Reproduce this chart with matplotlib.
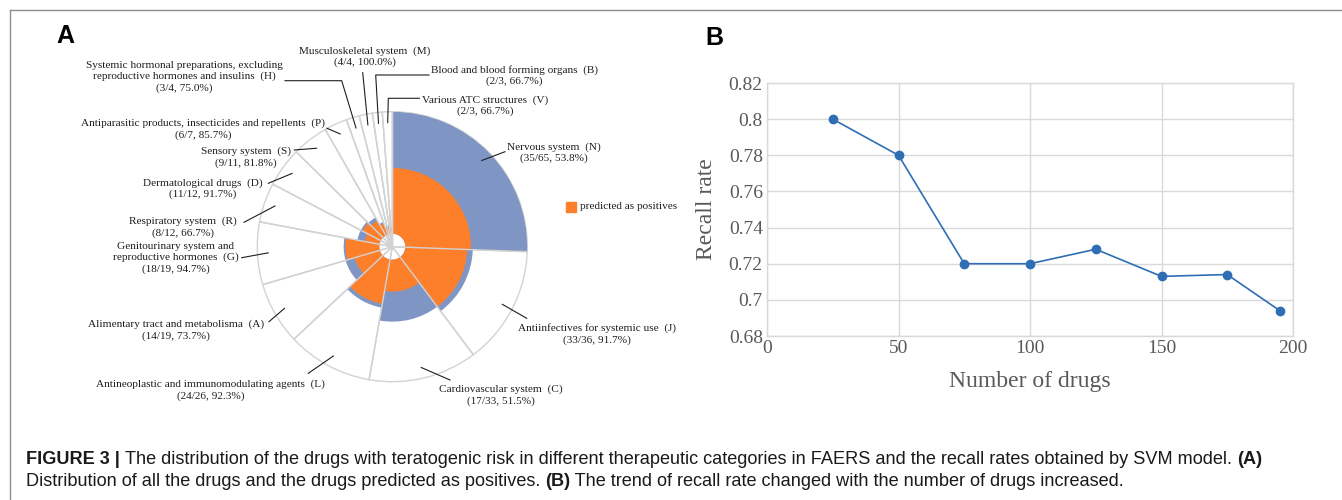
import matplotlib
matplotlib.use("Agg")
import matplotlib.pyplot as plt
import numpy as np
from matplotlib.lines import Line2D
from matplotlib.patches import Rectangle

# ---------------- data ----------------
codes = ["N", "J", "C", "L", "A", "G", "R", "D", "S", "P", "H", "M", "B", "V"]
names = [
    "Nervous system",
    "Antiinfectives for systemic use",
    "Cardiovascular system",
    "Antineoplastic and immunomodulating agents",
    "Alimentary tract and metabolisma",
    "Genitourinary system and\nreproductive hormones",
    "Respiratory system",
    "Dermatological drugs",
    "Sensory system",
    "Antiparasitic products, insecticides and repellents",
    "Systemic hormonal preparations, excluding\nreproductive hormones and insulins",
    "Musculoskeletal system",
    "Blood and blood forming organs",
    "Various ATC structures",
]
totals = [65, 36, 33, 26, 19, 19, 12, 12, 11, 7, 4, 4, 3, 3]
positives = [35, 33, 17, 24, 14, 18, 8, 11, 9, 6, 3, 4, 2, 2]

n_drugs = [25, 50, 75, 100, 125, 150, 175, 195]
recall = [0.800, 0.780, 0.720, 0.720, 0.728, 0.713, 0.714, 0.694]
x_ticks = [0, 50, 100, 150, 200]
y_ticks = [0.68, 0.70, 0.72, 0.74, 0.76, 0.78, 0.80, 0.82]

# ---------------- style ----------------
W, H = 1342, 500
BLUE = "#7F96C4"
ORANGE = "#FE7F2A"
GRID = "#d3d3d3"
SERIF = ["Liberation Serif", "DejaVu Serif"]
SANS = ["Liberation Sans", "DejaVu Sans"]
LBL = 8.1

fig = plt.figure(figsize=(W / 100, H / 100), dpi=100)
fig.patch.set_facecolor("white")


def fx(x):
    return x / W


def fy(y):
    return 1 - y / H


# outer frame (left and top edges visible)
fig.add_artist(Line2D([fx(9.5), fx(9.5)], [fy(10), fy(500)], color="#8c8c8c", lw=1.0))
fig.add_artist(Line2D([fx(9.5), fx(1342)], [fy(10), fy(10)], color="#8c8c8c", lw=1.0))

# panel letters
fig.text(fx(65), fy(36), "A", family=SANS, fontsize=18, weight="bold", ha="center", va="center")
fig.text(fx(714), fy(38), "B", family=SANS, fontsize=18, weight="bold", ha="center", va="center")

# ---------------- panel A : polar area chart ----------------
cx, cy, R = 392.3, 246.7, 135
axp = fig.add_axes([fx(cx - R), fy(cy + R), 2 * R / W, 2 * R / H], projection="polar")
axp.set_theta_zero_location("N")
axp.set_theta_direction(-1)

tot = np.array(totals, dtype=float)
pos = np.array(positives, dtype=float)
cum = np.concatenate([[0], np.cumsum(tot)])
theta_l = cum[:-1] / cum[-1] * 2 * np.pi
widths = tot / cum[-1] * 2 * np.pi
hole = tot.max() * 13 / 122.0
rmax = hole + tot.max()

axp.bar(theta_l, rmax, width=widths, bottom=0, align="edge", color="white",
        edgecolor=GRID, lw=1.0, zorder=1, clip_on=False)
axp.bar(theta_l, tot, width=widths, bottom=hole, align="edge", color=BLUE, lw=0, zorder=2)
axp.bar(theta_l, pos, width=widths, bottom=hole, align="edge", color=ORANGE, lw=0, zorder=3)
for t in cum / cum[-1] * 2 * np.pi:
    axp.plot([t, t], [0, rmax], color=GRID, lw=1.0, zorder=4, clip_on=False)
axp.set_ylim(0, rmax)
axp.axis("off")

# label layout: (anchor x, anchor y, ha, leader start, elbow or None)
layout = {
    "N": (507, 152.5, "left", (505, 151.7), None),
    "J": (518, 334, "left", (526.7, 318.3), None),
    "C": (500.7, 395, "center", (450, 380), None),
    "L": (210.8, 390, "center", (308.3, 373.3), None),
    "A": (264, 330, "right", (269, 321.7), None),
    "G": (238.3, 258, "right", (241.7, 257.7), None),
    "R": (236.7, 227, "right", (244, 222.3), None),
    "D": (262.7, 188.5, "right", (268.3, 183.3), None),
    "S": (290.7, 157, "right", (294.3, 150), None),
    "P": (325, 129, "right", (327, 128.3), None),
    "H": (283, 76.7, "right", (285, 80.7), (341.7, 80.7)),
    "M": (365, 56.5, "center", (362.7, 72.7), None),
    "B": (430.7, 75.5, "left", (429, 75), (375.7, 75)),
    "V": (421.7, 105.8, "left", (419.3, 98.3), (388.3, 98.3)),
}

mid = (cum[:-1] + tot / 2) / cum[-1] * 2 * np.pi
for i, code in enumerate(codes):
    ax_, ay_, ha, start, elbow = layout[code]
    pct = 100.0 * positives[i] / totals[i]
    label = f"{names[i]}  ({code})\n({positives[i]}/{totals[i]}, {pct:.1f}%)"
    fig.text(fx(ax_), fy(ay_), label, family=SERIF, fontsize=LBL, color="#1e1e1e",
             ha=ha, va="center", multialignment="center", linespacing=1.25)
    # leader line end: middle of the wedge near the outer edge
    ex, ey = axp.transData.transform((mid[i], 0.92 * rmax))
    ey = H - ey
    pts = [start] + ([elbow] if elbow else []) + [(ex, ey)]
    xs = [fx(p[0]) for p in pts]
    ys = [fy(p[1]) for p in pts]
    fig.add_artist(Line2D(xs, ys, color="#1e1e1e", lw=0.8))

# legend
fig.add_artist(Rectangle((fx(566), fy(212)), 10 / W, 10 / H, color=ORANGE, transform=fig.transFigure))
fig.text(fx(580), fy(207), "predicted as positives", family=SERIF, fontsize=LBL,
         color="#1e1e1e", ha="left", va="center")

# ---------------- panel B : recall line ----------------
axb = fig.add_axes([fx(767), fy(336), (1293 - 767) / W, (336 - 83) / H])
axb.plot(n_drugs, recall, color="#2F6DB5", lw=1.2, marker="o", ms=6,
         markerfacecolor="#2F6DB5", markeredgecolor="#2F6DB5", zorder=3, clip_on=False)
axb.set_xlim(0, 200)
axb.set_ylim(0.68, 0.82)
axb.set_xticks(x_ticks)
axb.set_xticklabels([f"{v:g}" for v in x_ticks])
axb.set_yticks(y_ticks)
axb.set_yticklabels([f"{v:g}" for v in y_ticks])
axb.grid(True, color="#d9d9d9", lw=1.0)
axb.set_axisbelow(True)
for s in axb.spines.values():
    s.set_color("#d9d9d9")
    s.set_linewidth(1.0)
axb.tick_params(length=0, labelsize=14, labelcolor="#595959", pad=3)
for lab in axb.get_xticklabels() + axb.get_yticklabels():
    lab.set_family(SERIF)
axb.set_ylabel("Recall rate", family=SERIF, fontsize=17, color="#595959")
axb.set_xlabel("Number of drugs", family=SERIF, fontsize=17, color="#595959")
axb.yaxis.label.set_va("center")
axb.yaxis.set_label_coords((707 - 767) / (1293 - 767), 0.5)
axb.xaxis.label.set_va("center")
axb.xaxis.set_label_coords(0.5, (336 - 381.7) / (336 - 83))

# ---------------- caption ----------------
renderer = fig.canvas.get_renderer()


def draw_line(pieces, x0, ybase, size):
    x = x0
    for txt, bold in pieces:
        t = fig.text(fx(x), fy(ybase), txt, family=SANS, fontsize=size,
                     weight="bold" if bold else "normal", ha="left", va="baseline",
                     color="#1a1a1a")
        bb = t.get_window_extent(renderer=renderer)
        x += bb.width
    return x


line1 = [("FIGURE 3 | ", True),
         ("The distribution of the drugs with teratogenic risk in different therapeutic "
          "categories in FAERS and the recall rates obtained by SVM model. ", False),
         ("(A)", True)]
line2 = [("Distribution of all the drugs and the drugs predicted as positives. ", False),
         ("(B)", True),
         (" The trend of recall rate changed with the number of drugs increased.", False)]

# measure line 1 at a trial size, then fit width
probe = []
w = 0
for txt, bold in line1:
    t = fig.text(0, 0, txt, family=SANS, fontsize=10, weight="bold" if bold else "normal")
    w += t.get_window_extent(renderer=renderer).width
    probe.append(t)
for t in probe:
    t.remove()
size = 10 * (1270 - 26) / w
draw_line(line1, 26, 464, size)
draw_line(line2, 26, 486, size)

fig.savefig("out.png", dpi=100, facecolor="white")
